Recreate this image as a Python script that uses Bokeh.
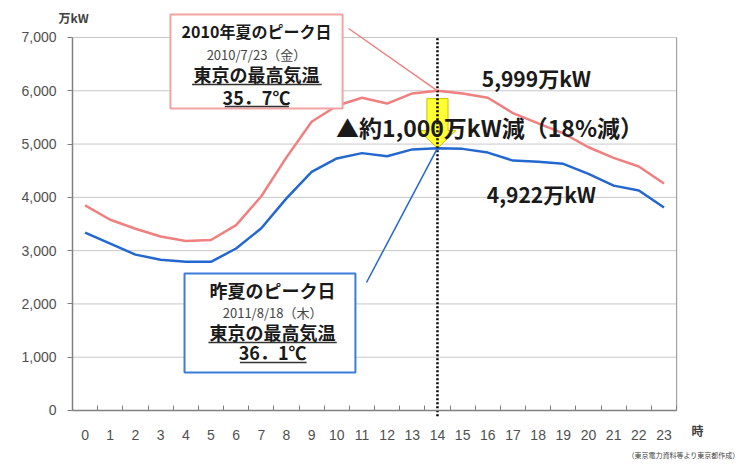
from bokeh.plotting import figure
from bokeh.models import Range1d, FixedTicker, NumeralTickFormatter
from bokeh.core.properties import value
from bokeh.embed import file_html
from bokeh.resources import INLINE

# ---- data ----
hours = list(range(24))
demand_2010 = [3850, 3580, 3410, 3265, 3180, 3200, 3480, 4020, 4750, 5420,
               5720, 5870, 5760, 5950, 5999, 5950, 5870, 5580, 5390, 5200,
               4940, 4740, 4580, 4260]
demand_2011 = [3340, 3130, 2925, 2830, 2790, 2790, 3040, 3420, 3980, 4480,
               4730, 4830, 4770, 4900, 4922, 4910, 4840, 4690, 4670, 4630,
               4440, 4220, 4130, 3810]
y_ticks = [0, 1000, 2000, 3000, 4000, 5000, 6000, 7000]
peak_hour = 14
peak_2010 = 5999
peak_2011 = 4922

RED = "#f07f7f"
BLUE = "#2467cf"
JP = value("Noto Sans CJK JP")
TXT = "#1a1a1a"
X0, X1 = -0.5, 23.5
YMAX = 7000

p = figure(width=745, height=467, output_backend="svg", toolbar_location=None,
           x_range=Range1d(-3.361, 26.238), y_range=Range1d(-1069.7, 7694.3),
           min_border=0, min_border_left=0, min_border_right=0,
           min_border_top=0, min_border_bottom=0)
p.outline_line_color = None
p.background_fill_color = "white"
p.border_fill_color = "white"
p.xgrid.visible = False
p.ygrid.visible = False

# horizontal grid lines across the plotting area
p.segment(x0=[X0] * len(y_ticks), y0=y_ticks, x1=[X1] * len(y_ticks), y1=y_ticks,
          line_color="#c8c8c8", line_width=1)
# right border
p.segment(x0=[X1], y0=[0], x1=[X1], y1=[YMAX], line_color="#a0a0a0", line_width=1.2)

# axes (fixed at data positions)
xa = p.xaxis[0]
xa.fixed_location = 0
xa.bounds = (X0, X1)
xa.ticker = FixedTicker(ticks=hours, minor_ticks=[h - 0.5 for h in range(25)])
xa.major_tick_in = 0
xa.major_tick_out = 0
xa.minor_tick_in = 5
xa.minor_tick_out = 0
xa.minor_tick_line_color = "#808080"
xa.axis_line_color = "#808080"
xa.axis_line_width = 1.5
xa.major_label_text_font = "Liberation Sans"
xa.major_label_text_font_size = "14px"
xa.major_label_text_color = "#505050"
xa.major_label_standoff = 20

ya = p.yaxis[0]
ya.fixed_location = X0
ya.ticker = FixedTicker(ticks=y_ticks)
ya.bounds = (0, YMAX)
ya.formatter = NumeralTickFormatter(format="0,0")
ya.major_tick_in = 0
ya.major_tick_out = 5
ya.minor_tick_in = 0
ya.minor_tick_out = 0
ya.major_tick_line_color = "#808080"
ya.axis_line_color = "#808080"
ya.axis_line_width = 1.5
ya.major_label_text_font = "Liberation Sans"
ya.major_label_text_font_size = "14px"
ya.major_label_text_color = "#505050"
ya.major_label_standoff = 11

# data lines
p.line(hours, demand_2010, line_color=RED, line_width=2.5)
p.line(hours, demand_2011, line_color=BLUE, line_width=2.5)

# yellow arrow
sw, hw = 0.42, 0.73
top = peak_2010 - 145
base = peak_2011 + 330
p.patch([peak_hour - sw, peak_hour + sw, peak_hour + sw, peak_hour + hw, peak_hour,
         peak_hour - hw, peak_hour - sw],
        [top, top, base, base, peak_2011, base, base],
        fill_color="#ffff33", line_color="#c9c200", line_width=1)

# dotted vertical line at peak hour
p.segment(x0=[peak_hour], y0=[-110], x1=[peak_hour], y1=[YMAX],
          line_color="black", line_width=2.5, line_dash="2 2")

# pointer lines
p.segment(x0=[10.47], y0=[7169], x1=[peak_hour], y1=[peak_2010], line_color=RED, line_width=1.5)
p.segment(x0=[11.18], y0=[2402], x1=[peak_hour], y1=[peak_2011], line_color=BLUE, line_width=1.5)

# boxes
p.quad(left=[3.39], right=[10.23], top=[7432], bottom=[5668],
       fill_color="white", line_color="#f4a3a3", line_width=2)
p.quad(left=[3.95], right=[10.74], top=[2571], bottom=[713],
       fill_color="white", line_color="#3b7dd8", line_width=2)

def txt(x, y, s, size, bold=True, color=TXT, align="center", font=JP):
    p.text(x=[x], y=[y], text=[s], text_font=font, text_font_size=size,
           text_font_style="bold" if bold else "normal", text_color=color,
           text_align=align, text_baseline="middle")

# red box texts
txt(6.81, 7113, "2010年夏のピーク日", "16px")
txt(6.81, 6681, "2010/7/23（金）", "13px", bold=False, color="#444444")
txt(6.81, 6306, "東京の最高気温", "18px")
txt(6.81, 5874, "35．7℃", "18px")
# blue box texts
txt(7.45, 2252, "昨夏のピーク日", "18px")
txt(7.45, 1839, "2011/8/18（木）", "13px", bold=False, color="#444444")
txt(7.45, 1464, "東京の最高気温", "18px")
txt(7.45, 1107, "36．1℃", "18px")

# underlines
p.segment(x0=[4.25, 5.55, 4.9, 6.15], y0=[6118, 5705, 1276, 901],
          x1=[9.4, 8.1, 10.0, 8.8], y1=[6118, 5705, 1276, 901],
          line_color="#333333", line_width=1.3)

# main annotations
txt(16.07, 5311, "▲約1,000万kW減（18%減）", "23px")
txt(17.93, 6231, "5,999万kW", "21px")
txt(18.13, 4054, "4,922万kW", "21px")

# unit / axis notes
txt(-0.46, 7375, "万kW", "12px", color="#404040")
txt(24.33, -375, "時", "12px", color="#404040")
txt(26.0, -830, "（東京電力資料等より東京都作成）", "7px", bold=False,
    color="#404040", align="right")

open("out.html", "w").write(file_html(p, INLINE))
